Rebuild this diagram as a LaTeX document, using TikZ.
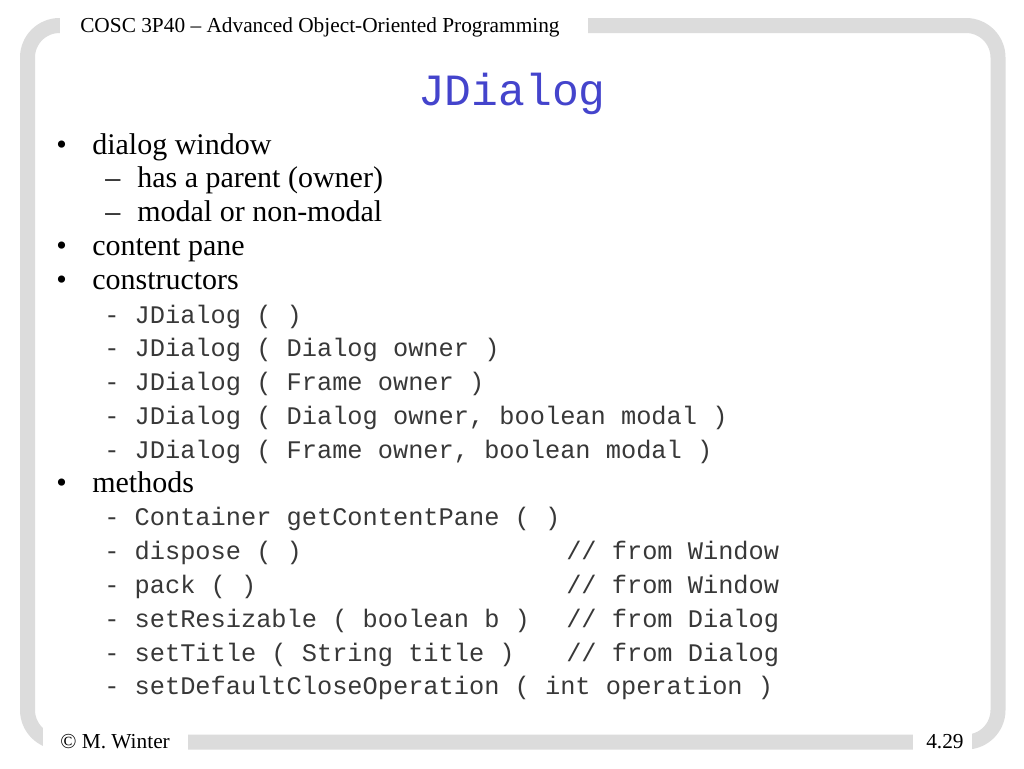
\documentclass[tikz,border=0pt]{standalone}
\usepackage{fontspec}
\setmainfont{Liberation Serif}
\setmonofont{Liberation Mono}
\definecolor{framegray}{HTML}{DCDCDC}
\definecolor{titleblue}{HTML}{4444CC}
\definecolor{codegray}{HTML}{383838}
\begin{document}
\begin{tikzpicture}[x=0.75pt,y=-0.75pt,
  hdr/.style={anchor=base west, inner sep=0pt, font=\fontsize{16}{19}\selectfont},
  txt/.style={anchor=base west, inner sep=0pt, font=\fontsize{22.5}{26}\selectfont},
  code/.style={anchor=base west, inner sep=0pt, font=\fontsize{19}{23}\selectfont\ttfamily, text=codegray},
  ttl/.style={anchor=base, inner sep=0pt, font=\fontsize{33.5}{40}\selectfont\ttfamily, text=titleblue}]
\useasboundingbox[fill=white] (0,0) rectangle (1024,768);
% frame
\draw[line width=11.25pt, framegray, rounded corners=24pt] (27.5,25.5) rectangle (998,742);
\fill[white] (60,4) rectangle (588,46);
\fill[white] (43,724) rectangle (188,762);
\fill[white] (913,724) rectangle (972,762);
% header / footer
\node[hdr] (header) at (80,32) {COSC 3P40 – Advanced Object-Oriented Programming};
\node[hdr] (footerl) at (60,748) {© M. Winter};
\node[hdr] (footerr) at (926,748) {4.29};
% title
\node[ttl] (title) at (512,105) {JDialog};
% body
\node[txt] (b1) at (56,154) {•};
\node[txt] (t1) at (92,154) {dialog window};
\node[txt] (d2) at (105,187.8) {–};
\node[txt] (t2) at (137,187.8) {has a parent (owner)};
\node[txt] (d3) at (105,221.6) {–};
\node[txt] (t3) at (137,221.6) {modal or non-modal};
\node[txt] (b4) at (56,255.4) {•};
\node[txt] (t4) at (92,255.4) {content pane};
\node[txt] (b5) at (56,289.2) {•};
\node[txt] (t5) at (92,289.2) {constructors};
\node[code] (c6) at (104,323) {- JDialog ( )};
\node[code] (c7) at (104,356.8) {- JDialog ( Dialog owner )};
\node[code] (c8) at (104,390.6) {- JDialog ( Frame owner )};
\node[code] (c9) at (104,424.4) {- JDialog ( Dialog owner, boolean modal )};
\node[code] (c10) at (104,458.2) {- JDialog ( Frame owner, boolean modal )};
\node[txt] (b11) at (56,492) {•};
\node[txt] (t11) at (92,492) {methods};
\node[code] (c12) at (104,525.8) {- Container getContentPane ( )};
\node[code] (c13) at (104,559.6) {- dispose ( )};
\node[code] (k13) at (566,559.6) {// from Window};
\node[code] (c14) at (104,593.4) {- pack ( )};
\node[code] (k14) at (566,593.4) {// from Window};
\node[code] (c15) at (104,627.2) {- setResizable ( boolean b )};
\node[code] (k15) at (566,627.2) {// from Dialog};
\node[code] (c16) at (104,661) {- setTitle ( String title )};
\node[code] (k16) at (566,661) {// from Dialog};
\node[code] (c17) at (104,694.8) {- setDefaultCloseOperation ( int operation )};
\end{tikzpicture}
\end{document}
